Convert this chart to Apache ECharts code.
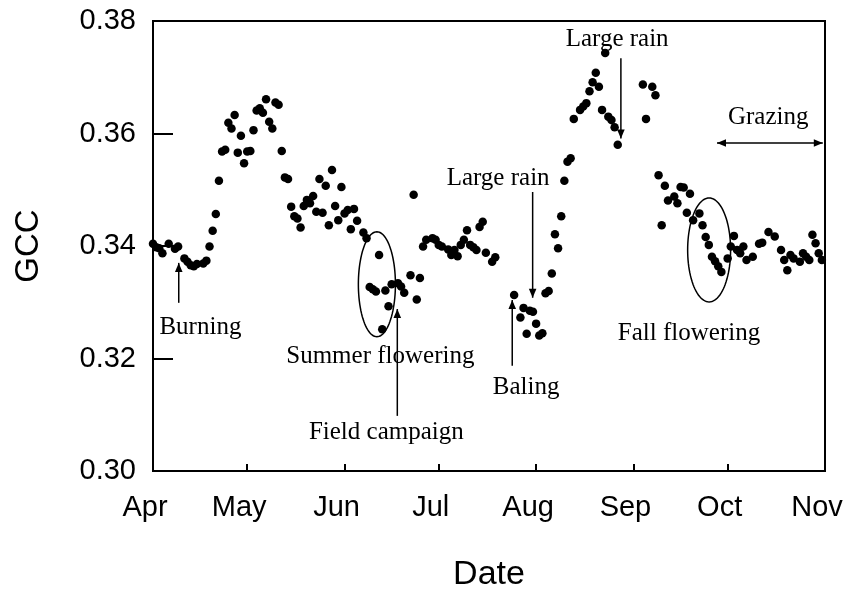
<!DOCTYPE html>
<html>
<head>
<meta charset="utf-8">
<script src="https://cdn.jsdelivr.net/npm/echarts@6/dist/echarts.min.js"></script>
<style>
  html, body { margin: 0; padding: 0; background: #fff; }
  #chart { width: 847px; height: 590px; }
</style>
</head>
<body>
<div id="chart"></div>
<script>
// Daily greenness chromatic coordinate (GCC), April - October
const dates = [
  '2016-04-01','2016-04-02','2016-04-03','2016-04-04','2016-04-06','2016-04-08','2016-04-09','2016-04-11','2016-04-12','2016-04-13',
  '2016-04-14','2016-04-15','2016-04-17','2016-04-18','2016-04-19','2016-04-20','2016-04-21','2016-04-22','2016-04-23','2016-04-24',
  '2016-04-25','2016-04-26','2016-04-27','2016-04-28','2016-04-29','2016-04-30',
  '2016-05-01','2016-05-02','2016-05-03','2016-05-04','2016-05-05','2016-05-06','2016-05-07','2016-05-08','2016-05-09','2016-05-10',
  '2016-05-11','2016-05-12','2016-05-13','2016-05-14','2016-05-15','2016-05-16','2016-05-17','2016-05-18','2016-05-19','2016-05-20',
  '2016-05-21','2016-05-22','2016-05-23','2016-05-24','2016-05-25','2016-05-26','2016-05-27','2016-05-28','2016-05-29','2016-05-30',
  '2016-05-31',
  '2016-06-01','2016-06-02','2016-06-03','2016-06-04','2016-06-05','2016-06-07','2016-06-08','2016-06-09','2016-06-10','2016-06-11',
  '2016-06-12','2016-06-13','2016-06-14','2016-06-15','2016-06-16','2016-06-18','2016-06-19','2016-06-20','2016-06-22','2016-06-23',
  '2016-06-24','2016-06-25','2016-06-26','2016-06-27','2016-06-29','2016-06-30',
  '2016-07-01','2016-07-02','2016-07-04','2016-07-05','2016-07-06','2016-07-07','2016-07-08','2016-07-09','2016-07-10','2016-07-11',
  '2016-07-12','2016-07-13','2016-07-14','2016-07-15','2016-07-16','2016-07-18','2016-07-19','2016-07-25','2016-07-27','2016-07-28',
  '2016-07-29','2016-07-30','2016-07-31',
  '2016-08-01','2016-08-02','2016-08-03','2016-08-04','2016-08-05','2016-08-06','2016-08-07','2016-08-08','2016-08-09','2016-08-10',
  '2016-08-11','2016-08-12','2016-08-13','2016-08-15','2016-08-16','2016-08-17','2016-08-18','2016-08-19','2016-08-20','2016-08-21',
  '2016-08-22','2016-08-23','2016-08-24','2016-08-25','2016-08-26','2016-08-27',
  '2016-09-04','2016-09-05','2016-09-07','2016-09-08','2016-09-09','2016-09-10','2016-09-11','2016-09-12','2016-09-14','2016-09-15',
  '2016-09-16','2016-09-17','2016-09-18','2016-09-19','2016-09-20','2016-09-22','2016-09-23','2016-09-24','2016-09-25','2016-09-26',
  '2016-09-27','2016-09-28','2016-09-29',
  '2016-10-01','2016-10-02','2016-10-03','2016-10-04','2016-10-05','2016-10-06','2016-10-07','2016-10-09','2016-10-11','2016-10-12',
  '2016-10-14','2016-10-16','2016-10-18','2016-10-19','2016-10-20','2016-10-21','2016-10-22','2016-10-24','2016-10-25','2016-10-26',
  '2016-10-27','2016-10-28','2016-10-29','2016-10-30','2016-10-31'
];

const gcc = [
  0.3404,0.3398,0.3396,0.3387,0.3404,0.3395,0.3399,0.3378,0.3372,0.3366,
  0.3364,0.3368,0.3369,0.3374,0.3399,0.3427,0.3457,0.3516,0.3568,0.3571,
  0.3619,0.3609,0.3633,0.3566,0.3596,0.3547,
  0.3568,0.3569,0.3606,0.3641,0.3645,0.3637,0.3661,0.3621,0.3609,0.3655,
  0.3651,0.3569,0.3522,0.3519,0.3470,0.3453,0.3449,0.3433,0.3471,0.3482,
  0.3476,0.3489,0.3461,0.3519,0.3459,0.3507,0.3437,0.3535,0.3471,0.3446,
  0.3505,
  0.3458,0.3464,0.3430,0.3466,0.3445,0.3424,0.3414,0.3327,0.3323,0.3319,
  0.3384,0.3252,0.3321,0.3293,0.3332,0.3334,0.3328,0.3317,0.3348,0.3491,
  0.3305,0.3343,0.3399,0.3411,0.3414,0.3411,
  0.3402,0.3399,0.3394,0.3384,0.3393,0.3382,0.3402,0.3411,0.3428,0.3402,
  0.3398,0.3393,0.3434,0.3443,0.3388,0.3372,0.3380,0.3313,0.3273,0.3290,
  0.3244,0.3285,0.3283,
  0.3262,0.3241,0.3245,0.3316,0.3320,0.3351,0.3421,0.3396,0.3453,0.3516,
  0.3550,0.3556,0.3626,0.3642,0.3648,0.3654,0.3675,0.3691,0.3708,0.3683,
  0.3642,0.3743,0.3630,0.3624,0.3611,0.3580,
  0.3687,0.3626,0.3683,0.3668,0.3526,0.3437,0.3507,0.3481,0.3488,0.3476,
  0.3505,0.3504,0.3459,0.3493,0.3446,0.3458,0.3437,0.3416,0.3402,0.3381,
  0.3373,0.3364,0.3354,
  0.3378,0.3399,0.3418,0.3393,0.3387,0.3399,0.3375,0.3381,0.3404,0.3406,
  0.3425,0.3417,0.3393,0.3375,0.3357,0.3384,0.3378,0.3372,0.3387,0.3381,
  0.3375,0.3420,0.3405,0.3387,0.3375
];

const seasonStart = '2016-04-01';
const seasonEnd = '2016-11-01';
const monthNames = ['Apr', 'May', 'Jun', 'Jul', 'Aug', 'Sep', 'Oct', 'Nov'];
const gccTicks = [0.30, 0.32, 0.34, 0.36, 0.38];

// Event annotations, placed in chart coordinates: [days after season start, GCC]
const eventLabels = [
  { text: 'Burning',           at: [15.1, 0.3256] },
  { text: 'Summer flowering',  at: [72.4, 0.3204] },
  { text: 'Field campaign',    at: [74.3, 0.3069] },
  { text: 'Large rain',        at: [109.9, 0.3521] },
  { text: 'Baling',            at: [118.8, 0.3149] },
  { text: 'Large rain',        at: [147.8, 0.3767] },
  { text: 'Fall flowering',    at: [170.7, 0.3245] },
  { text: 'Grazing',           at: [195.9, 0.3629] }
];
const eventArrows = [
  { from: [8.2, 0.3299],   to: [8.2, 0.3370] },
  { from: [77.8, 0.3098],  to: [77.8, 0.3288] },
  { from: [120.9, 0.3496], to: [120.9, 0.3308] },
  { from: [114.4, 0.3187], to: [114.4, 0.3304] },
  { from: [149.0, 0.3734], to: [149.0, 0.3591] },
  { from: [179.6, 0.3583], to: [213.3, 0.3583], both: true }
];
const eventRings = [
  { center: [71.3, 0.3332],  halfDays: 5.9,  halfGcc: 0.00933 },
  { center: [177.1, 0.3393], halfDays: 6.84, halfGcc: 0.00924 }
];

const startTime = new Date(seasonStart + 'T00:00:00').getTime();
const endTime = new Date(seasonEnd + 'T00:00:00').getTime();
const DAY = 86400000;

const chart = echarts.init(document.getElementById('chart'), null, { renderer: 'canvas' });

const sans = 'Liberation Sans, Arial, sans-serif';
const serif = 'Liberation Serif, Times New Roman, serif';

chart.setOption({
  animation: false,
  backgroundColor: '#fff',
  grid: {
    left: 153, right: 22, top: 21, bottom: 119,
    outerBoundsMode: 'none',
    containLabel: false,
    show: true, borderColor: '#000', borderWidth: 2, backgroundColor: 'transparent'
  },
  xAxis: {
    type: 'time',
    min: startTime,
    max: endTime,
    splitNumber: 7,
    name: 'Date',
    nameLocation: 'middle',
    nameGap: 87,
    nameTextStyle: { fontFamily: sans, fontSize: 34, color: '#000' },
    axisLine: { lineStyle: { color: '#000', width: 2 } },
    axisTick: { inside: true, length: 7, lineStyle: { color: '#000', width: 2 } },
    splitLine: { show: false },
    axisLabel: {
      margin: 22,
      showMinLabel: true,
      showMaxLabel: true,
      formatter: function (v) {
        const m = new Date(v).getMonth() - 3;
        return '{m|' + (monthNames[m] || '') + '}';
      },
      rich: {
        m: { fontFamily: sans, fontSize: 29, color: '#000', padding: [0, 16, 0, 0] }
      }
    }
  },
  yAxis: {
    type: 'value',
    min: gccTicks[0],
    max: gccTicks[gccTicks.length - 1],
    interval: 0.02,
    name: 'GCC',
    nameLocation: 'middle',
    nameGap: 108,
    nameTextStyle: { fontFamily: sans, fontSize: 33, color: '#000' },
    axisLine: { show: true, lineStyle: { color: '#000', width: 2 } },
    axisTick: { show: true, inside: true, length: 20, lineStyle: { color: '#000', width: 2 } },
    splitLine: { show: false },
    axisLabel: {
      margin: 17,
      fontFamily: sans,
      fontSize: 29,
      color: '#000',
      formatter: function (v) { return v.toFixed(2); }
    }
  },
  series: [{
    type: 'scatter',
    name: 'GCC',
    data: dates.map(function (d, i) { return [d, gcc[i]]; }),
    symbol: 'circle',
    symbolSize: 8.5,
    itemStyle: { color: '#000', opacity: 1 },
    emphasis: { disabled: true }
  }]
});

// Convert an annotation position to pixels
function px(p) {
  return chart.convertToPixel({ gridIndex: 0 }, [startTime + p[0] * DAY, p[1]]);
}

function arrowHead(tip, tail) {
  const dx = tip[0] - tail[0], dy = tip[1] - tail[1];
  const len = Math.sqrt(dx * dx + dy * dy) || 1;
  const ux = dx / len, uy = dy / len;
  const L = 9, W = 3.8;
  const bx = tip[0] - ux * L, by = tip[1] - uy * L;
  return {
    type: 'polygon',
    shape: { points: [[tip[0], tip[1]], [bx - uy * W, by + ux * W], [bx + uy * W, by - ux * W]] },
    style: { fill: '#000' },
    silent: true
  };
}

const graphics = [];

eventRings.forEach(function (r) {
  const c = px(r.center);
  const e = px([r.center[0] + r.halfDays, r.center[1] + r.halfGcc]);
  const rx = Math.abs(e[0] - c[0]), ry = Math.abs(e[1] - c[1]);
  const pts = [];
  for (let k = 0; k < 96; k++) {
    const a = (k / 96) * Math.PI * 2;
    pts.push([c[0] + rx * Math.cos(a), c[1] + ry * Math.sin(a)]);
  }
  graphics.push({
    type: 'polygon',
    shape: { points: pts },
    style: { fill: 'none', stroke: '#000', lineWidth: 1.5 },
    silent: true
  });
});

eventArrows.forEach(function (a) {
  const p1 = px(a.from), p2 = px(a.to);
  graphics.push({
    type: 'line',
    shape: { x1: p1[0], y1: p1[1], x2: p2[0], y2: p2[1] },
    style: { stroke: '#000', lineWidth: 1.5 },
    silent: true
  });
  graphics.push(arrowHead(p2, p1));
  if (a.both) graphics.push(arrowHead(p1, p2));
});

eventLabels.forEach(function (l) {
  const p = px(l.at);
  graphics.push({
    type: 'text',
    x: p[0],
    y: p[1],
    style: {
      text: l.text,
      fontFamily: serif,
      fontSize: 25,
      fill: '#000',
      align: 'center',
      verticalAlign: 'middle',
      textAlign: 'center',
      textVerticalAlign: 'middle'
    },
    silent: true
  });
});

chart.setOption({ graphic: graphics });
</script>
</body>
</html>
